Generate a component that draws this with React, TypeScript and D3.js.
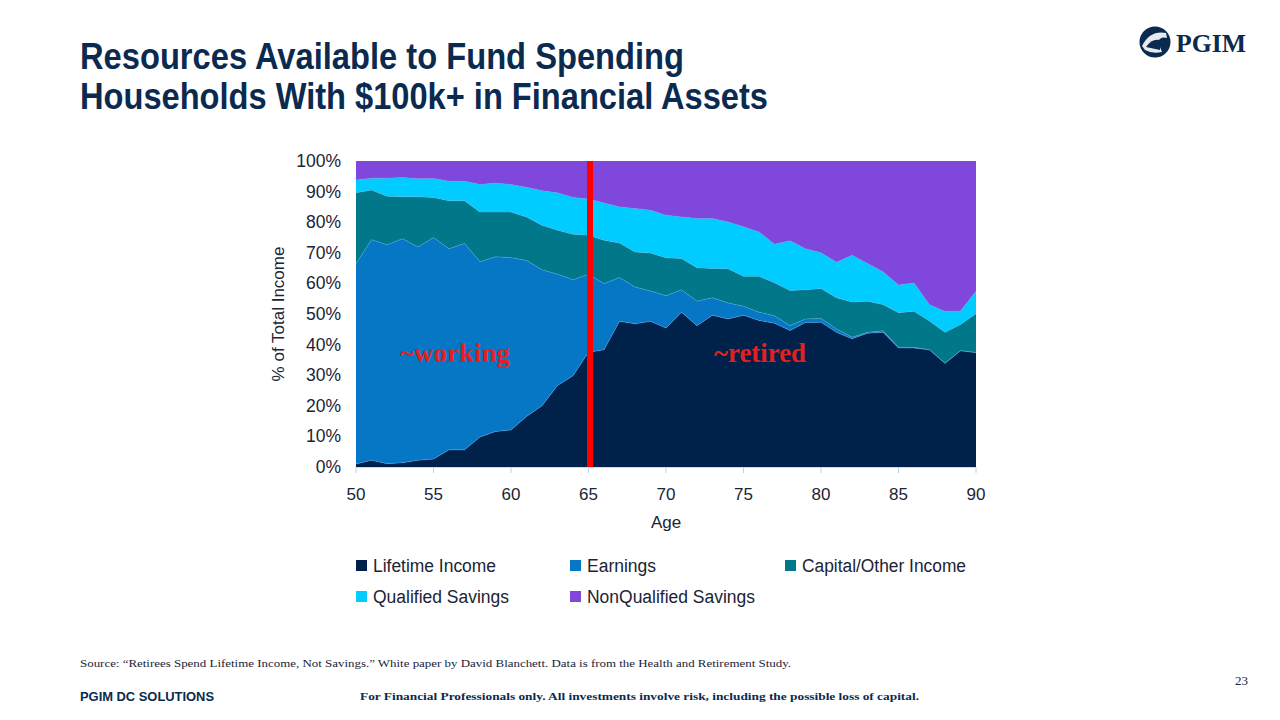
import React from "react";
import * as d3 from "d3";

const ages = [50,51,52,53,54,55,56,57,58,59,60,61,62,63,64,65,66,67,68,69,70,71,72,73,74,75,76,77,78,79,80,81,82,83,84,85,86,87,88,89,90];
const lifetimeIncome = [1,2.2,1.1,1.4,2.2,2.6,5.6,5.6,9.8,11.6,12.1,16.5,20,26.6,29.8,37.5,38.3,47.6,46.8,47.6,45.4,50.6,46.2,49.6,48.4,49.6,47.9,47,44.6,47.2,47.3,44,41.9,43.7,44,38.9,38.9,38.3,33.9,38,37.4];
const earnings = [65.4,72.1,71.5,73.2,69.7,72.4,65.7,67.4,57.3,57.1,56.3,51,44.5,36.4,31.4,25.5,21.6,14.3,12,9.9,10.6,7.3,8,5.7,5.2,2.9,2.7,2.4,1.6,1.2,1.2,1.1,0.5,0.3,0.5,0.2,0.2,0,0,0,0];
const capitalOther = [23.2,16.2,15.9,13.7,16.4,13.1,15.7,14,16.2,14.6,14.9,14.2,14.5,14.4,14.9,12.7,14.2,11.3,11.5,12.4,12.4,10.2,10.9,9.6,11.2,9.8,11.7,10.8,11.5,9.5,9.8,10.2,11.5,10.2,8.6,11.3,11.8,9.4,10.1,8.6,12.7];
const qualifiedSavings = [4.2,3.9,5.9,6.3,5.9,6.2,6.4,6.4,9,9.5,9,9.7,11.3,12.2,12,11.9,12.2,11.8,14.2,14,13.9,13.6,16.1,16.3,15.3,16.2,14.5,12.6,16.2,13.4,11.7,11.6,15.3,12.3,10.7,9.1,9.2,5.3,6.8,4.4,7.3];

const seriesNames = ["Lifetime Income", "Earnings", "Capital/Other Income", "Qualified Savings", "NonQualified Savings"];
const seriesColors = ["#00214A", "#0677C4", "#00788A", "#00CCFF", "#7F47DB"];
const yTicks = [0,10,20,30,40,50,60,70,80,90,100];
const xTicks = [50,55,60,65,70,75,80,85,90];
const retirementAge = 65;

const rows = ages.map((a, i) => {
  const l = lifetimeIncome[i], e = earnings[i], c = capitalOther[i], q = qualifiedSavings[i];
  return { age: a, s0: l, s1: e, s2: c, s3: q, s4: Math.max(0, 100 - l - e - c - q) };
});

const NAVY = "#0B2A4F";
const TXT = "#1B2436";

export default function App() {
  const x = d3.scaleLinear().domain([50, 90]).range([356, 976]);
  const y = d3.scaleLinear().domain([0, 100]).range([467, 161]);
  const stack = d3.stack<any>().keys(["s0","s1","s2","s3","s4"]);
  const layers = stack(rows);
  const area = d3.area<any>().x((d) => x(d.data.age)).y0((d) => y(d[0])).y1((d) => y(d[1]));
  const topLine = d3.line<any>().x((d) => x(d.data.age)).y((d) => y(d[1]));

  const legendItems = [
    { x: 356, y: 565, w: 123 }, { x: 570, y: 565, w: 69 }, { x: 785, y: 565, w: 164 },
    { x: 356, y: 596, w: 136 }, { x: 570, y: 596, w: 168 },
  ];

  return (
    <svg width={1280} height={720} style={{ position: "absolute", left: 0, top: 0, background: "#fff" }}
      fontFamily="'Liberation Sans', Arial, sans-serif">
      <rect x={0} y={0} width={1280} height={720} fill="#fff" />
      {/* Title */}
      <text x={80} y={69} fontSize={36} fontWeight="bold" fill={NAVY} textLength={604} lengthAdjust="spacingAndGlyphs">Resources Available to Fund Spending</text>
      <text x={80} y={109} fontSize={36} fontWeight="bold" fill={NAVY} textLength={688} lengthAdjust="spacingAndGlyphs">Households With $100k+ in Financial Assets</text>

      {/* Logo */}
      <g>
        <circle cx={1155} cy={42} r={15.5} fill={NAVY} />
        <path d="M1142,46 Q1150,30 1166,33 L1167,38 Q1160,36 1158,42 L1162,52 Q1152,54 1145,50 Z" fill="#fff" opacity={0.9} />
        <path d="M1146,47 Q1152,38 1160,40 L1160,50 Z" fill={NAVY} />
        <text x={1176} y={52} fontSize={25} fontWeight="bold" fill={NAVY} fontFamily="'Liberation Serif', serif" textLength={70} lengthAdjust="spacingAndGlyphs">PGIM</text>
      </g>

      {/* Areas */}
      {layers.map((layer, i) => (
        <path key={i} d={area(layer) || ""} fill={seriesColors[i]} />
      ))}
      {layers.slice(0, 4).map((layer, i) => (
        <path key={"l" + i} d={topLine(layer) || ""} fill="none" stroke="#5AA9E6" strokeWidth={0.7} opacity={0.6} />
      ))}

      {/* X axis ticks */}
      <line x1={356} x2={976} y1={467.5} y2={467.5} stroke="#C9DDF0" strokeWidth={1} />
      {xTicks.map((t) => (
        <g key={t}>
          <line x1={x(t)} x2={x(t)} y1={467} y2={473} stroke="#B7D2EC" />
          <text x={x(t)} y={500} fontSize={17} fill={TXT} textAnchor="middle">{t}</text>
        </g>
      ))}
      <text x={666} y={528} fontSize={17} fill={TXT} textAnchor="middle">Age</text>

      {/* Y axis labels */}
      {yTicks.map((t) => (
        <text key={t} x={341} y={y(t) + 6} fontSize={17.5} fill={TXT} textAnchor="end">{t}%</text>
      ))}
      <text transform="translate(284,314) rotate(-90)" fontSize={17} fill={TXT} textAnchor="middle">% of Total Income</text>

      {/* Retirement line */}
      <line x1={x(retirementAge) + 1.5} x2={x(retirementAge) + 1.5} y1={161} y2={467} stroke="#FF0000" strokeWidth={6} />

      {/* Annotations */}
      <text x={455} y={362} fontSize={26.5} fontWeight="bold" fill="#E3201F" textAnchor="middle" fontFamily="'Liberation Serif', serif" textLength={110} lengthAdjust="spacingAndGlyphs">~working</text>
      <text x={760} y={362} fontSize={26.5} fontWeight="bold" fill="#E3201F" textAnchor="middle" fontFamily="'Liberation Serif', serif" textLength={92} lengthAdjust="spacingAndGlyphs">~retired</text>

      {/* Legend */}
      {legendItems.map((p, i) => (
        <g key={i}>
          <rect x={p.x} y={p.y - 5} width={11} height={11} fill={seriesColors[i]} />
          <text x={p.x + 17} y={p.y + 7} fontSize={18} fill={TXT} textLength={p.w} lengthAdjust="spacingAndGlyphs">{seriesNames[i]}</text>
        </g>
      ))}

      {/* Footer */}
      <text x={80} y={667} fontSize={11} fill={TXT} fontFamily="'Liberation Serif', serif" textLength={711} lengthAdjust="spacingAndGlyphs">Source: “Retirees Spend Lifetime Income, Not Savings.” White paper by David Blanchett.  Data is from the Health and Retirement Study.</text>
      <text x={80} y={701} fontSize={12.5} fontWeight="bold" fill={NAVY} textLength={134} lengthAdjust="spacingAndGlyphs">PGIM DC SOLUTIONS</text>
      <text x={360} y={700} fontSize={11} fontWeight="bold" fill={NAVY} fontFamily="'Liberation Serif', serif" textLength={559} lengthAdjust="spacingAndGlyphs">For Financial Professionals only. All investments involve risk, including the possible loss of capital.</text>
      <text x={1248} y={685} fontSize={13} fill={TXT} textAnchor="end" fontFamily="'Liberation Serif', serif">23</text>
    </svg>
  );
}
